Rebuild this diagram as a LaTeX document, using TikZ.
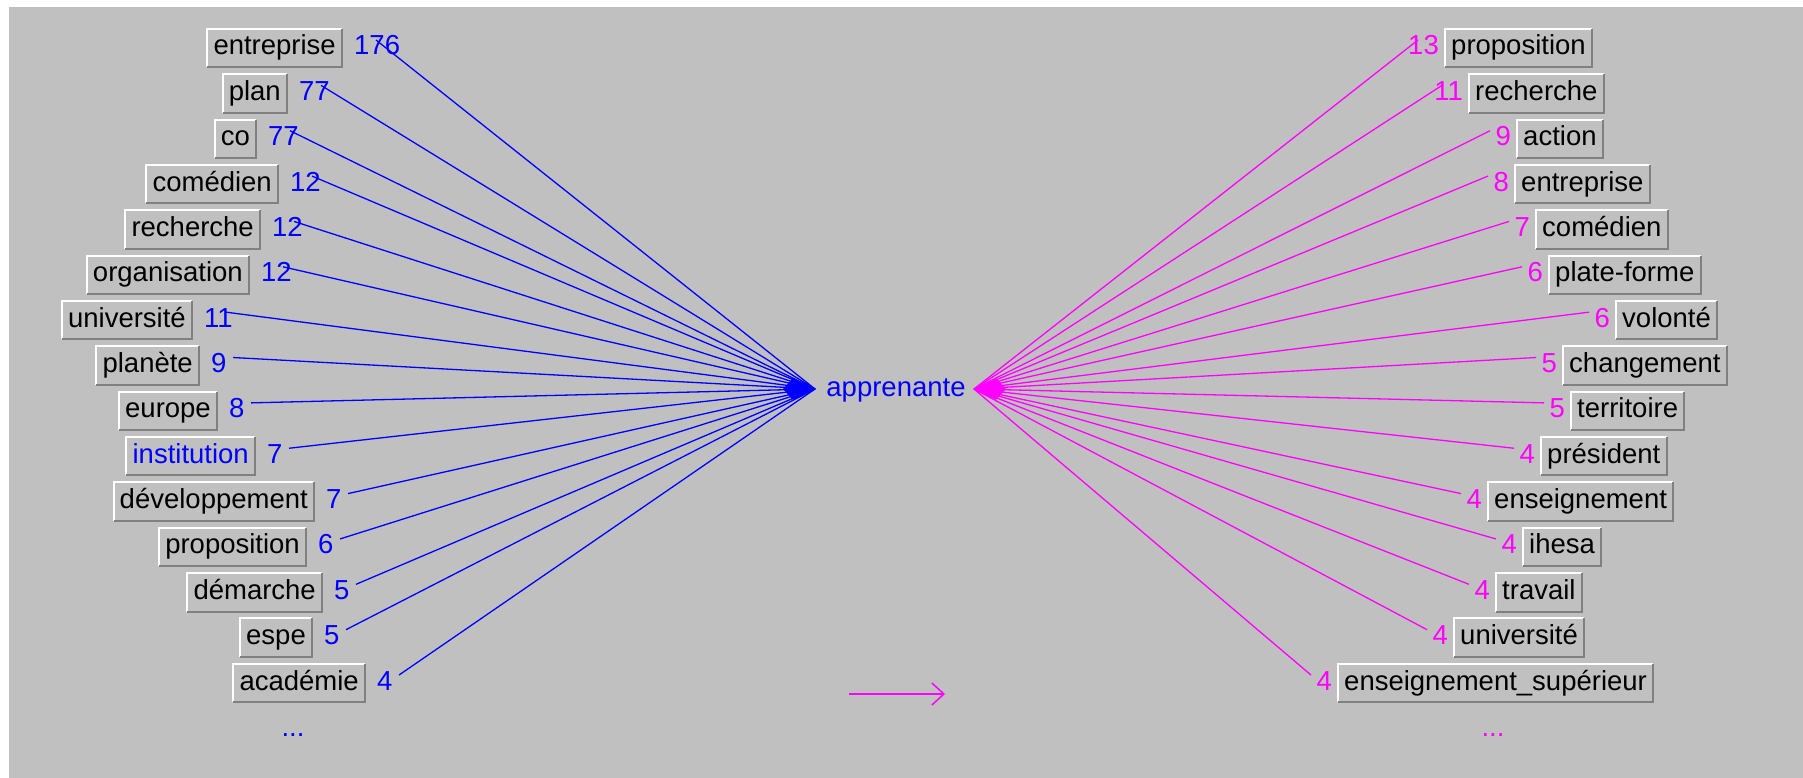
\documentclass[tikz,border=0pt]{standalone}
\usepackage{fontspec}
\setmainfont{Liberation Sans}
\usetikzlibrary{arrows.meta}
\definecolor{bg}{HTML}{C0C0C0}
\definecolor{dk}{HTML}{808080}
\definecolor{lblue}{HTML}{0000FF}
\definecolor{lpink}{HTML}{FF00FF}
\newcommand\btnborder[1]{%
  \draw[white,line width=2pt] ([xshift=1pt,yshift=1pt]#1.south west) |- ([xshift=-1pt,yshift=-1pt]#1.north east);
  \draw[dk,line width=2pt] ([xshift=1pt,yshift=1pt]#1.south west) -| ([xshift=-1pt,yshift=-1pt]#1.north east);
}
\tikzset{
  btn/.style={fill=bg, inner xsep=7pt, inner ysep=7pt, text height=20pt, text depth=6pt, font=\fontsize{27.5}{30}\selectfont},
  numL/.style={inner sep=0pt, text height=20pt, text depth=6pt, text=lblue, font=\fontsize{27.5}{30}\selectfont},
  numR/.style={inner sep=0pt, text height=20pt, text depth=6pt, text=lpink, font=\fontsize{27.5}{30}\selectfont},
  blueline/.style={lblue, line width=1.3pt},
  pinkline/.style={lpink, line width=1.3pt},
}
\begin{document}
\begin{tikzpicture}[x=1pt,y=-1pt]
\useasboundingbox (0,0) rectangle (1803,778);
\fill[white] (0,0) rectangle (1803,778);
\fill[bg] (9,7) rectangle (1803,778);
\coordinate (hubL) at (815,389);
\coordinate (hubR) at (974,389);
\node[text=lblue, inner sep=0pt, text height=20pt, text depth=6pt, font=\fontsize{27.5}{30}\selectfont] (app) at (896,389) {apprenante};
% left side
\foreach \i/\e/\lab/\num/\tc in {1/343/entreprise/176/black, 2/288/plan/77/black, 3/257/co/77/black, 4/279/comédien/12/black, 5/261/recherche/12/black, 6/250/organisation/12/black, 7/193/université/11/black, 8/200/planète/9/black, 9/218/europe/8/black, 10/256/institution/7/lblue, 11/315/développement/7/black, 12/307/proposition/6/black, 13/323/démarche/5/black, 14/313/espe/5/black, 15/366/académie/4/black} {
  \pgfmathsetmacro\yy{48+45.36*(\i-1)}
  \node[btn, anchor=east, text=\tc] (L\i) at (\e,\yy) {\lab};
  \btnborder{L\i}
  \node[numL, anchor=west] (LN\i) at ([xshift=11pt]L\i.east) {\num};
  \coordinate (LS\i) at ([xshift=22pt,yshift=8pt]LN\i.west);
  \draw[blueline] (LS\i) -- (hubL);
}
% right side
\foreach \i/\w/\lab/\num in {1/1444/proposition/13, 2/1468/recherche/11, 3/1516/action/9, 4/1514/entreprise/8, 5/1535/comédien/7, 6/1548/plate-forme/6, 7/1615/volonté/6, 8/1562/changement/5, 9/1570/territoire/5, 10/1540/président/4, 11/1487/enseignement/4, 12/1522/ihesa/4, 13/1495/travail/4, 14/1453/université/4, 15/1337/enseignement\_supérieur/4} {
  \pgfmathsetmacro\yy{48+45.36*(\i-1)}
  \node[btn, anchor=west] (R\i) at (\w,\yy) {\lab};
  \btnborder{R\i}
  \node[numR, anchor=east] (RN\i) at ([xshift=-5pt]R\i.west) {\num};
  \coordinate (RE\i) at ([xshift=-26pt,yshift=8pt]R\i.west);
  \draw[pinkline] (hubR) -- (RE\i);
}
% hub blobs
\fill[lblue] (783,389) -- (793,378) -- (hubL) -- (793,400) -- cycle;
\fill[lpink] (1006,389) -- (996,378) -- (hubR) -- (996,400) -- cycle;
% dots
\node[text=lblue, inner sep=0pt, anchor=base, font=\fontsize{27.5}{30}\selectfont] (dotsL) at (293,736) {...};
\node[text=lpink, inner sep=0pt, anchor=base, font=\fontsize{27.5}{30}\selectfont] (dotsR) at (1493,736) {...};
% arrow
\coordinate (a1) at (849,694);
\coordinate (a2) at (945,694);
\draw[lpink, line width=2pt, -{Straight Barb[length=12pt,width=22pt,line width=1.5pt]}] (a1) -- (a2);
\end{tikzpicture}
\end{document}
